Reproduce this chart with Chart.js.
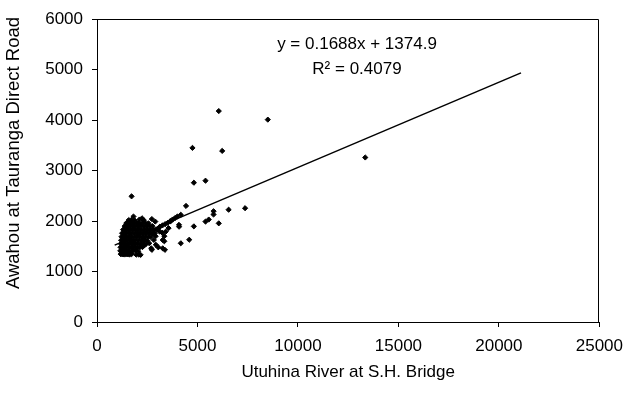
<!DOCTYPE html>
<html>
<head>
<meta charset="utf-8">
<script src="https://cdn.jsdelivr.net/npm/chart.js@4.4.1/dist/chart.umd.min.js"></script>
<style>
  html, body { margin: 0; padding: 0; background: #fff; }
</style>
</head>
<body>
<canvas id="chart" width="632" height="394"></canvas>
<script>
const clusterX = [
  1180, 1260, 1350, 1440, 1530, 1620, 1720,
  1160, 1250, 1340, 1450, 1560, 1680, 1800, 1930, 2050,
  1170, 1260, 1370, 1480, 1600, 1730, 1860, 1990, 2120, 2260,
  1190, 1290, 1400, 1520, 1640, 1770, 1900, 2030, 2160, 2300, 2440,
  1200, 1300, 1420, 1540, 1670, 1800, 1940, 2080, 2220, 2360, 2500,
  1220, 1330, 1450, 1570, 1700, 1840, 1980, 2120, 2260, 2400, 2550, 2680,
  1250, 1360, 1480, 1610, 1740, 1880, 2020, 2160, 2300, 2450, 2600, 2750, 2880,
  1300, 1410, 1530, 1660, 1790, 1930, 2070, 2210, 2360, 2510, 2660, 2820, 2980,
  1380, 1490, 1610, 1740, 1870, 2010, 2150, 2300, 2450, 2600, 2760,
  1460, 1570, 1690, 1820, 1960, 2100, 2250, 2400, 2560,
  1580, 1720, 1870, 2110, 2330
];
const clusterY = [
  1345, 1340, 1338, 1342, 1340, 1336, 1344,
  1410, 1405, 1415, 1408, 1412, 1404, 1410, 1415, 1402,
  1480, 1476, 1485, 1478, 1482, 1474, 1488, 1480, 1476, 1484,
  1550, 1546, 1555, 1548, 1552, 1545, 1557, 1550, 1546, 1553, 1548,
  1620, 1616, 1624, 1618, 1622, 1614, 1626, 1620, 1617, 1623, 1615,
  1690, 1686, 1694, 1688, 1692, 1684, 1696, 1690, 1686, 1693, 1688, 1684,
  1760, 1756, 1764, 1758, 1762, 1754, 1766, 1760, 1756, 1763, 1758, 1754, 1762,
  1830, 1826, 1834, 1828, 1832, 1824, 1836, 1830, 1826, 1833, 1828, 1824, 1832,
  1900, 1896, 1904, 1898, 1902, 1894, 1906, 1900, 1896, 1903, 1898,
  1960, 1956, 1964, 1958, 1962, 1954, 1966, 1960, 1956,
  2020, 2026, 2014, 2030, 2018
];

// scattered points outside the cluster
const spreadX = [
  6060, 8500, 4750, 6230, 5400, 4820, 1720, 4430, 7370, 6550,
  5800, 5800, 5560, 5400, 6060, 4820, 4080, 13350, 4170, 4000,
  3880, 3760, 3640, 3520, 3390, 3260, 3130, 3050, 3120, 3250,
  3420, 3560, 4590, 4170, 3350, 3380, 3050, 2730, 2920, 3350,
  2080, 1950, 2170, 2900, 2730, 2240, 1815, 2370, 2830, 2930,
  3270, 2700, 3270, 4085, 3676, 2600, 2650, 2500, 2800
];
const spreadY = [
  4180, 4010, 3450, 3390, 2800, 2760, 2490, 2300, 2255, 2225,
  2195, 2130, 2030, 1990, 1955, 1895, 1925, 3260, 2125, 2090,
  2060, 2030, 1995, 1965, 1940, 1915, 1890, 1850, 1790, 1770,
  1790, 1860, 1630, 1560, 1600, 1430, 1480, 1430, 1700, 1700,
  1335, 1335, 1330, 1990, 2040, 2055, 2090, 1525, 1625, 1530,
  1460, 1460, 1625, 1888, 2000, 1560, 1830, 1920, 1750
];

// linear trendline from the chart
const trendSlope = 0.1688;
const trendIntercept = 1374.9;
const trendRange = [880, 21100];

const xTicks = [0, 5000, 10000, 15000, 20000, 25000];
const yTicks = [0, 1000, 2000, 3000, 4000, 5000, 6000];

const FONT = "'Liberation Sans', Arial, sans-serif";

const points = clusterX.map((x, i) => ({ x, y: clusterY[i] }))
  .concat(spreadX.map((x, i) => ({ x, y: spreadY[i] })));
const trend = trendRange.map(x => ({ x, y: trendSlope * x + trendIntercept }));

const extras = {
  id: 'extras',
  afterDraw(chart) {
    const { ctx, chartArea: a } = chart;
    ctx.save();
    // plot area frame (top and right sides)
    ctx.strokeStyle = '#000';
    ctx.lineWidth = 1;
    ctx.beginPath();
    ctx.moveTo(Math.round(a.left) + 0.5, Math.round(a.top) + 0.5);
    ctx.lineTo(Math.round(a.right) - 0.5, Math.round(a.top) + 0.5);
    ctx.lineTo(Math.round(a.right) - 0.5, Math.round(a.bottom) + 0.5);
    ctx.stroke();

    ctx.fillStyle = '#000';
    ctx.font = '17px ' + FONT;
    ctx.textAlign = 'center';
    ctx.textBaseline = 'alphabetic';
    ctx.fillText('y = 0.1688x + 1374.9', 357, 49);
    ctx.fillText('R\u00B2 = 0.4079', 357, 74);

    // y axis title
    ctx.font = '18.5px ' + FONT;
    ctx.translate(14, 153);
    ctx.rotate(-Math.PI / 2);
    ctx.textBaseline = 'middle';
    ctx.fillText('Awahou at Tauranga Direct Road', 0, 0);
    ctx.restore();
  }
};

new Chart(document.getElementById('chart'), {
  type: 'scatter',
  data: {
    datasets: [
      {
        type: 'line',
        data: trend,
        borderColor: '#000',
        borderWidth: 1.5,
        pointRadius: 0,
        fill: false,
        order: 0,
      },
      {
        data: points,
        pointStyle: 'rectRot',
        pointRadius: 2.6,
        backgroundColor: '#000',
        borderColor: '#000',
        borderWidth: 1,
        order: 1,
      },
    ],
  },
  options: {
    responsive: false,
    animation: false,
    layout: { padding: { top: 19, right: 25, left: 0, bottom: 0 } },
    plugins: {
      legend: { display: false },
      tooltip: { enabled: false },
    },
    scales: {
      x: {
        type: 'linear',
        min: 0,
        max: 25000,
        afterBuildTicks: s => { s.ticks = xTicks.map(v => ({ value: v })); },
        afterFit: s => { s.height = 72; },
        grid: { drawOnChartArea: false, drawTicks: true, tickLength: 5, color: '#000' },
        border: { display: true, color: '#000', width: 1 },
        ticks: { color: '#000', padding: 9, font: { family: FONT, size: 17 }, callback: v => String(v) },
        title: {
          display: true,
          text: 'Utuhina River at S.H. Bridge',
          color: '#000',
          font: { family: FONT, size: 17 },
          padding: { top: 0, bottom: 11 },
        },
      },
      y: {
        type: 'linear',
        min: 0,
        max: 6000,
        afterBuildTicks: s => { s.ticks = yTicks.map(v => ({ value: v })); },
        afterFit: s => { s.width = 97; },
        grid: { drawOnChartArea: false, drawTicks: true, tickLength: 5, color: '#000' },
        border: { display: true, color: '#000', width: 1 },
        ticks: { color: '#000', padding: 9, font: { family: FONT, size: 17 }, callback: v => String(v) },
      },
    },
  },
  plugins: [extras],
});
</script>
</body>
</html>
